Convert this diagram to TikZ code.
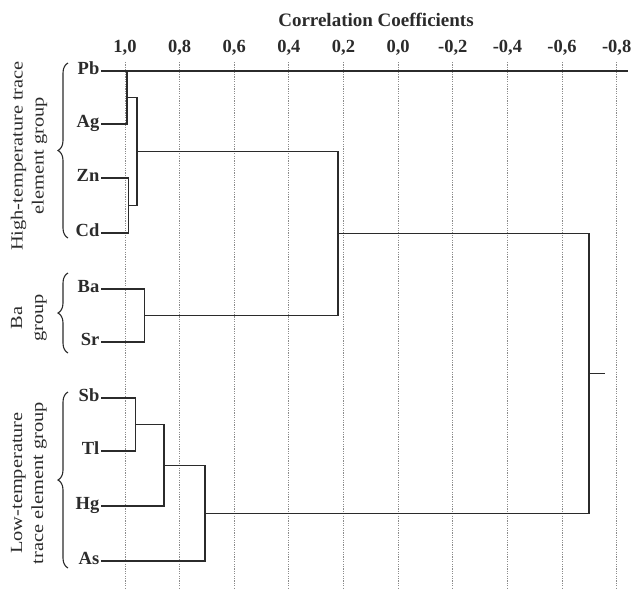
\documentclass[tikz,border=0pt]{standalone}
\usepackage{fontspec}
\setmainfont{Liberation Serif}
\usetikzlibrary{decorations.pathreplacing}
\definecolor{inkgray}{HTML}{2B2B2B}
\definecolor{dotgray}{HTML}{8C8C8C}
\tikzset{
  leaf/.style={anchor=east,inner sep=1.5pt,font=\fontsize{18.5}{20}\selectfont\bfseries,text height=0.66em,text depth=0pt},
  tick/.style={font=\fontsize{18.5}{20}\selectfont\bfseries},
  branch/.style={draw=inkgray,line width=1.5pt},
  gridline/.style={draw=dotgray,line width=0.9pt,dash pattern=on 1.2pt off 1.2pt},
  groupbrace/.style={draw=inkgray,line width=1.1pt,decorate,decoration={brace,amplitude=10pt}},
  grouplabel/.style={rotate=90,xscale=1.2,align=center,font=\fontsize{17}{21}\selectfont}
}
\begin{document}
\begin{tikzpicture}[x=1pt,y=-1pt,text=inkgray]
\useasboundingbox (0,0) rectangle (635,590);
\node[font=\fontsize{19}{21}\selectfont\bfseries] (title) at (376,20) {Correlation Coefficients};
\foreach \lab [count=\i from 0] in {{1,0},{0,8},{0,6},{0,4},{0,2},{0,0},{-0,2},{-0,4},{-0,6},{-0,8}} {
  \node[tick] (t\i) at ({125+54.63*\i},48) {\lab};
  \draw[gridline] ({125+54.63*\i},62) -- ({125+54.63*\i},588);
}
\node[leaf] (pb) at (101,71) {Pb};
\node[leaf] (ag) at (101,124) {Ag};
\node[leaf] (zn) at (101,178) {Zn};
\node[leaf] (cd) at (101,233) {Cd};
\node[leaf] (ba) at (101,289) {Ba};
\node[leaf] (sr) at (101,342) {Sr};
\node[leaf] (sb) at (101,398) {Sb};
\node[leaf] (tl) at (101,451) {Tl};
\node[leaf] (hg) at (101,506) {Hg};
\node[leaf] (as) at (101,561) {As};
\coordinate (pbend) at (628,71);
\coordinate (m1) at (127,97.5);
\coordinate (m2) at (128.5,205.5);
\coordinate (m3) at (137,151.5);
\coordinate (m4) at (144.5,315.5);
\coordinate (m5) at (338,233.5);
\coordinate (m6) at (135.5,424.5);
\coordinate (m7) at (164,465.5);
\coordinate (m8) at (205,513.5);
\coordinate (m9) at (589,373.5);
\coordinate (stub) at (605,373.5);
\draw[branch] (pb.east) -- (pbend);
\draw[branch] (pb.east) -| (m1) |- (ag.east);
\draw[branch] (zn.east) -| (m2) |- (cd.east);
\draw[branch] (m1) -| (m3) |- (m2);
\draw[branch] (ba.east) -| (m4) |- (sr.east);
\draw[branch] (m3) -| (m5) |- (m4);
\draw[branch] (sb.east) -| (m6) |- (tl.east);
\draw[branch] (m6) -| (m7) |- (hg.east);
\draw[branch] (m7) -| (m8) |- (as.east);
\draw[branch] (m5) -| (m9) |- (m8);
\draw[branch] (m9) -- (stub);
\draw[groupbrace] (68,238) -- (68,63);
\draw[groupbrace] (68,353) -- (68,273);
\draw[groupbrace] (68,568) -- (68,392);
\node[grouplabel] (high) at (29,156) {High-temperature trace\\element group};
\node[grouplabel] (bagrp) at (29,318) {Ba\\group};
\node[grouplabel] (low) at (29,483) {Low-temperature\\trace element group};
\end{tikzpicture}
\end{document}
